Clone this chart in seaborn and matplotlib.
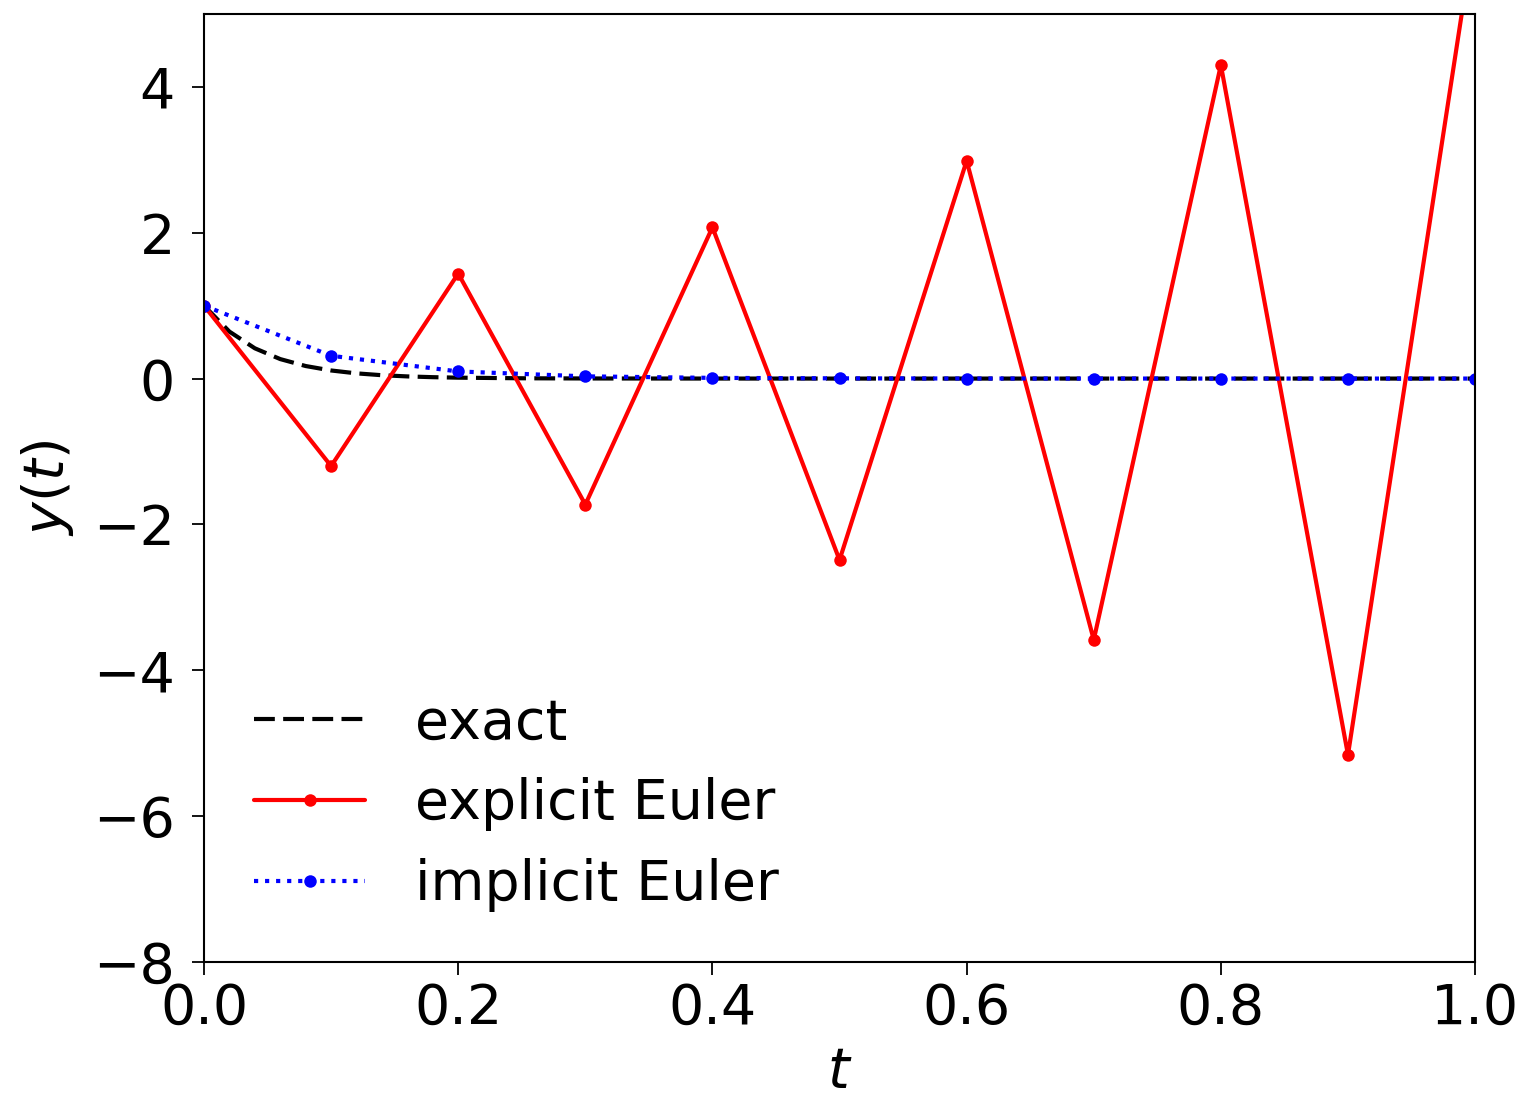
import numpy as np
import pandas as pd
import matplotlib
matplotlib.use("Agg")
import matplotlib.pyplot as plt
import seaborn as sns

# time grid of the Euler steps
t_steps = [0.0, 0.1, 0.2, 0.3, 0.4, 0.5, 0.6, 0.7, 0.8, 0.9, 1.0]
y_explicit = [1.0, -1.2, 1.44, -1.728, 2.074, -2.488, 2.986, -3.583, 4.300, -5.160, 6.192]
y_implicit = [1.0, 0.3125, 0.0977, 0.0305, 0.0095, 0.0030, 0.0009, 0.0003, 0.0001, 0.0, 0.0]

# exact solution
t_exact = [0.0, 0.02, 0.04, 0.06, 0.08, 0.10, 0.12, 0.14, 0.16, 0.18, 0.20,
           0.25, 0.30, 0.40, 0.50, 0.60, 0.70, 0.80, 0.90, 1.0]
y_exact = [1.0, 0.644, 0.415, 0.267, 0.172, 0.111, 0.0714, 0.046, 0.0296, 0.0191, 0.0123,
           0.0041, 0.0014, 0.0002, 0.0, 0.0, 0.0, 0.0, 0.0, 0.0]

sns.set_theme(style="ticks")
plt.rcParams['font.family'] = ['DejaVu Sans']
plt.rcParams['mathtext.fontset'] = 'dejavusans'
plt.rcParams['text.color'] = 'black'
plt.rcParams['axes.labelcolor'] = 'black'
plt.rcParams['xtick.color'] = 'black'
plt.rcParams['ytick.color'] = 'black'

fig = plt.figure(figsize=(15.27, 10.99), dpi=100)
ax = fig.add_axes([0.1336, 0.1247, 0.9660 - 0.1336, 0.9873 - 0.1247])

lw = 3.0
sns.lineplot(x=t_exact, y=y_exact, ax=ax, color='black', linestyle=(0, (5.0, 2.0)),
             linewidth=lw, label='exact', sort=False, estimator=None)
sns.lineplot(x=t_steps, y=y_explicit, ax=ax, color='red', linestyle='-',
             linewidth=lw, marker='o', markersize=9, markeredgewidth=0,
             label='explicit Euler', sort=False, estimator=None)
sns.lineplot(x=t_steps, y=y_implicit, ax=ax, color='blue', linestyle=':',
             linewidth=lw, marker='o', markersize=9, markeredgewidth=0,
             label='implicit Euler', sort=False, estimator=None)

ax.set_xlim(0, 1)
ax.set_ylim(-8, 5)
ax.set_xticks([0.0, 0.2, 0.4, 0.6, 0.8, 1.0])
ax.set_yticks([-8, -6, -4, -2, 0, 2, 4])
ax.set_xlabel('$t$', fontsize=40, labelpad=7)
ax.set_ylabel('$y(t)$', fontsize=40, labelpad=12)
ax.tick_params(labelsize=40, length=9, width=1.3, color='black')
ax.tick_params(axis='y', pad=12)
ax.tick_params(axis='x', pad=5)
for s in ax.spines.values():
    s.set_linewidth(1.5)
    s.set_color('black')

ax.legend(loc='lower left', frameon=False, fontsize=40, handlelength=2.0,
          handletextpad=0.9, labelspacing=0.48)

fig.savefig('out.png', dpi=100)
